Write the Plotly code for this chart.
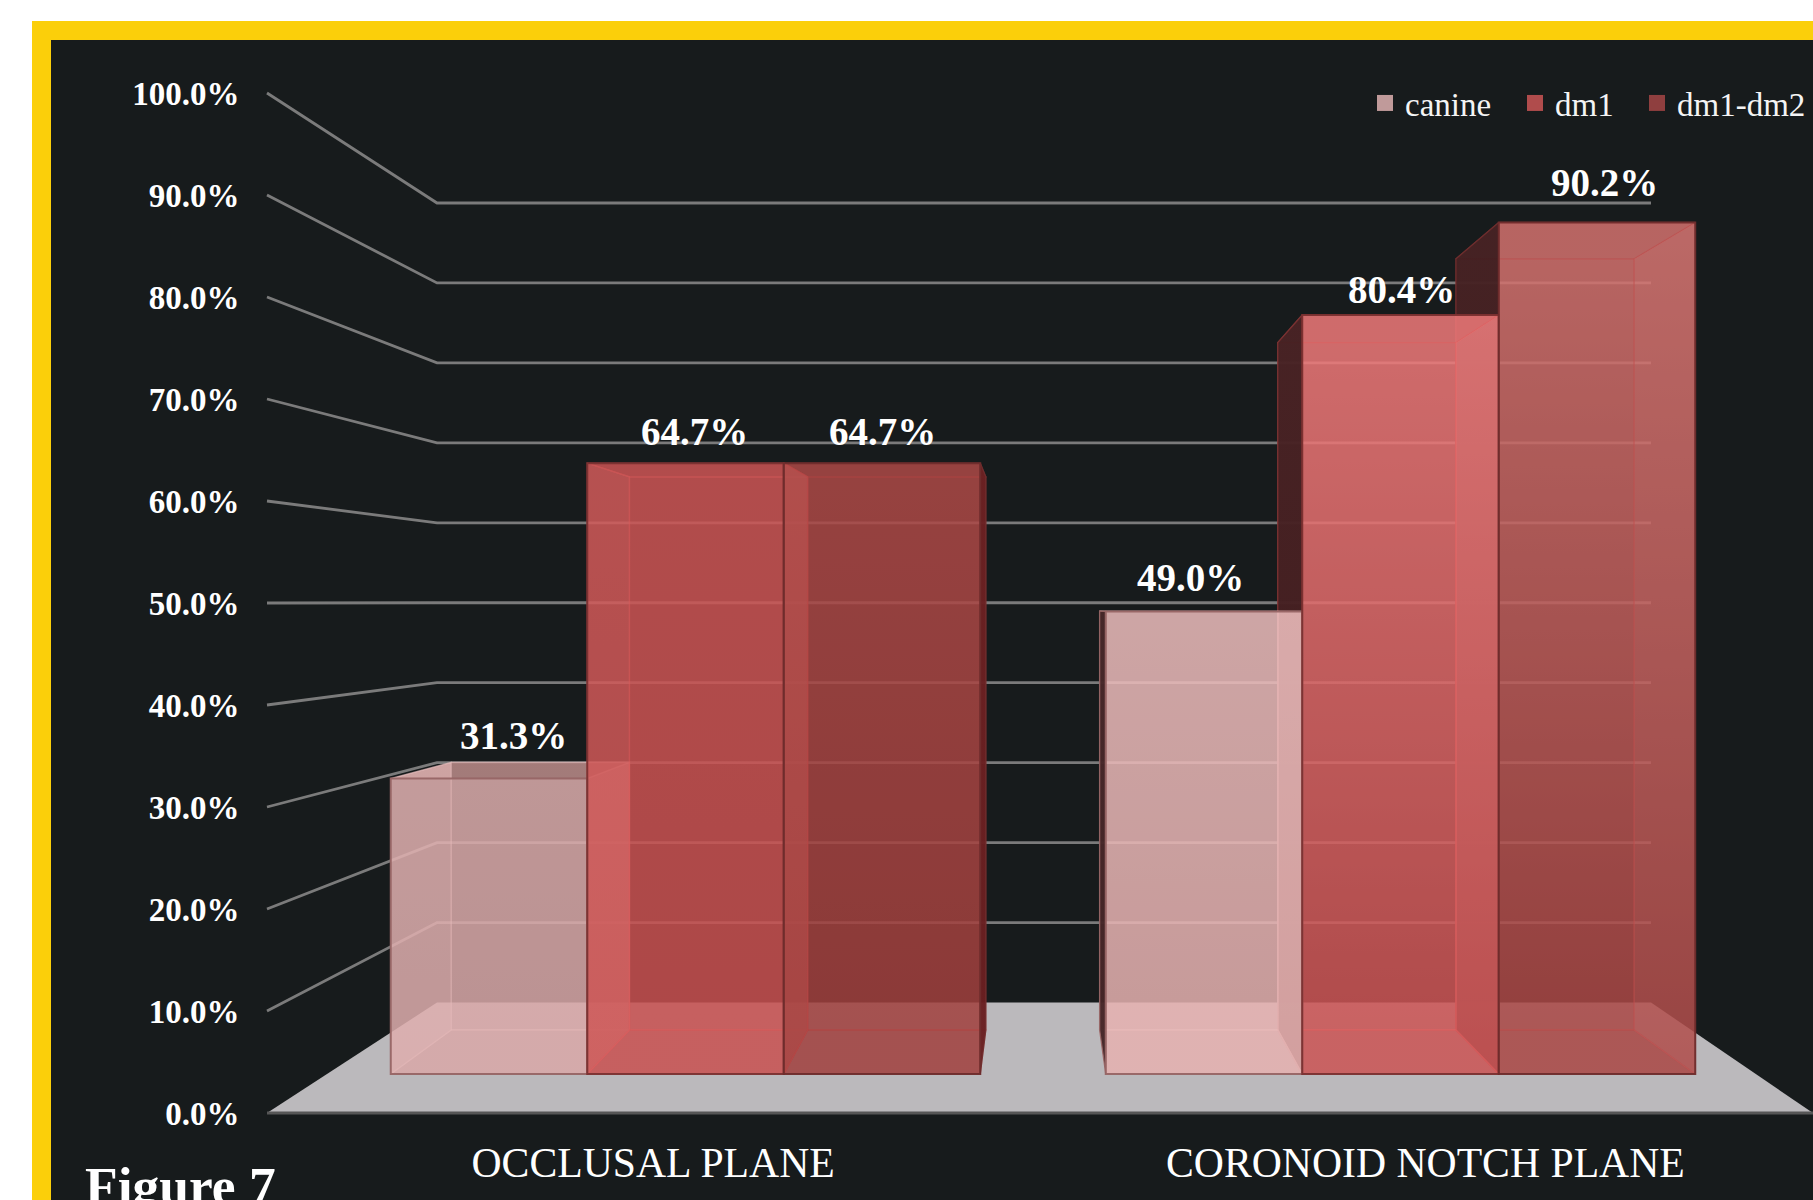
import plotly.graph_objects as go

# ---------- data ----------
CATEGORIES = ["OCCLUSAL PLANE", "CORONOID NOTCH PLANE"]
SERIES = ["canine", "dm1", "dm1-dm2"]
CANINE = [31.3, 49.0]
DM1 = [64.7, 80.4]
DM1_DM2 = [64.7, 90.2]
TICKS = [0, 10, 20, 30, 40, 50, 60, 70, 80, 90, 100]
TICK_LABELS = ["0.0%", "10.0%", "20.0%", "30.0%", "40.0%", "50.0%",
               "60.0%", "70.0%", "80.0%", "90.0%", "100.0%"]

# ---------- page geometry (px) ----------
W, H = 1813, 1200
FONT = "Liberation Serif"
BG = "#171b1c"

GROUP_CENTRES = [685.5, 1400.5]
BAR_W = 196.5
VP = 1040.0           # x that does not move with depth
SHRINK = 0.0932       # x shrink front -> back of bar
FRONT_BASE, FRONT_K = 1074.0, 9.44
BACK_BASE, BACK_K = 1030.0, 8.55
WALL_X0, WALL_X1, WALL_X2 = 267.0, 437.0, 1651.0
TICK_BASE, TICK_K = 1113.0, 10.2
GRID_BASE, GRID_K = 1002.5, 7.995


def tick_units(py):
    return (TICK_BASE - py) / TICK_K


def front_units(py):
    return (FRONT_BASE - py) / FRONT_K


def proj_x(fx, d):
    return VP + (fx - VP) * (1 - SHRINK * d)


def proj_y(v, d):
    base = FRONT_BASE + (BACK_BASE - FRONT_BASE) * d
    k = FRONT_K + (BACK_K - FRONT_K) * d
    return front_units(base - k * v)


def rgba(c, a):
    return f"rgba({c[0]},{c[1]},{c[2]},{a})"


# mean colour per [series][group]
FRONT_COL = [[(219, 171, 171), (234, 183, 183)],
             [(202, 83, 82), (222, 103, 103)],
             [(164, 67, 66), (191, 92, 89)]]
# gradient of the inner faces: (top, bottom)
FACE_COL = [[((222, 176, 175), (214, 166, 166)), ((240, 196, 195), (226, 172, 170))],
            [((208, 88, 87), (198, 78, 77)), ((255, 139, 139), (186, 67, 67))],
            [((180, 78, 76), (156, 60, 58)), ((231, 133, 129), (151, 51, 49))]]
EDGE_COL = [(236, 195, 195), (232, 96, 96), (196, 70, 70)]
OUT_COL = [(150, 100, 100), (122, 48, 48), (110, 44, 44)]
LEGEND_COL = ["#c09a9a", "#b04c4c", "#8f3f3f"]
LEGEND_X = [1365, 1515, 1637]
LEGEND_KEYS = ["legend", "legend2", "legend3"]
DARK = (54, 24, 26)
POLY_A, FRONT_A, EDGE_A = 0.75, 0.40, 0.42

LABEL_DX = [[24, 9, 0], [-14, 1, 7]]
LABEL_DY = [[43, 32, 32], [34, 26, 40]]

VALUES = [CANINE, DM1, DM1_DM2]
fig = go.Figure()

# ---------- floor and walls ----------
fig.add_trace(go.Scatter(
    x=[WALL_X0, WALL_X1, WALL_X2, W + 0, WALL_X0],
    y=[tick_units(TICK_BASE), tick_units(GRID_BASE), tick_units(GRID_BASE),
       tick_units(TICK_BASE), tick_units(TICK_BASE)],
    mode="lines", fill="toself", fillcolor="#bbb9bc", line=dict(width=0),
    showlegend=False, hoverinfo="skip", xaxis="x", yaxis="y"))
fig.add_trace(go.Scatter(
    x=[WALL_X0, W], y=[0, 0], mode="lines", line=dict(color="#565656", width=3),
    showlegend=False, hoverinfo="skip", xaxis="x", yaxis="y"))
for t in TICKS[1:]:
    back = tick_units(GRID_BASE - GRID_K * t)
    fig.add_trace(go.Scatter(
        x=[WALL_X0, WALL_X1, WALL_X2], y=[t, back, back], mode="lines",
        line=dict(color="#7b7b7b", width=2.8),
        showlegend=False, hoverinfo="skip", xaxis="x", yaxis="y"))


def add_face(pts, top, bottom, edge, alpha=POLY_A):
    xs = [p[0] for p in pts] + [pts[0][0]]
    ys = [p[1] for p in pts] + [pts[0][1]]
    fig.add_trace(go.Scatter(
        x=xs, y=ys, mode="lines", fill="toself",
        fillgradient=dict(type="vertical",
                          colorscale=[[0, rgba(bottom, alpha)], [1, rgba(top, alpha)]]),
        line=dict(color=edge, width=1.3),
        showlegend=False, hoverinfo="skip", xaxis="x2", yaxis="y2"))


# ---------- depth faces ----------
for g, centre in enumerate(GROUP_CENTRES):
    order = [0, 1, 2] if g == 0 else [2, 1, 0]
    for s in order:
        v = VALUES[s][g]
        fx0 = centre + (s - 1.5) * BAR_W
        fx1 = fx0 + BAR_W
        bx0, bx1 = proj_x(fx0, 1), proj_x(fx1, 1)
        top, bot = FACE_COL[s][g]
        edge = rgba(EDGE_COL[s], EDGE_A)
        lift = lambda c: tuple(min(255, x + 10) for x in c)
        # back
        add_face([(bx0, proj_y(0, 1)), (bx1, proj_y(0, 1)),
                  (bx1, proj_y(v, 1)), (bx0, proj_y(v, 1))], top, bot, edge)
        # floor of the box
        add_face([(fx0, 0), (fx1, 0), (bx1, proj_y(0, 1)), (bx0, proj_y(0, 1))],
                 bot, bot, edge)
        # lid of the box
        lid_top = (160, 118, 116) if v < 45 else top
        add_face([(fx0, v), (fx1, v), (bx1, proj_y(v, 1)), (bx0, proj_y(v, 1))],
                 lid_top, lid_top, edge)
        # left side
        left_dark = g == 1
        add_face([(fx0, 0), (bx0, proj_y(0, 1)), (bx0, proj_y(v, 1)), (fx0, v)],
                 DARK if left_dark else lift(top), DARK if left_dark else lift(bot),
                 rgba(OUT_COL[s], 0.9) if left_dark else edge, 0.88 if left_dark else POLY_A)
        # right side
        right_dark = g == 0 and s == 2
        right_hidden = g == 0 and s < 2
        add_face([(fx1, 0), (bx1, proj_y(0, 1)), (bx1, proj_y(v, 1)), (fx1, v)],
                 (100, 28, 30) if right_dark else lift(top),
                 (100, 28, 30) if right_dark else lift(bot),
                 rgba(OUT_COL[s], 0.9) if right_dark else edge,
                 0.88 if right_dark else (0.25 if right_hidden else POLY_A))

# ---------- front faces: real grouped bars on a value axis ----------
for s, name in enumerate(SERIES):
    fig.add_trace(go.Bar(
        name=name, x=CATEGORIES, y=VALUES[s], showlegend=False, legendgroup=name,
        marker=dict(color=[rgba(FRONT_COL[s][g], FRONT_A) for g in range(2)],
                    line=dict(color=rgba(OUT_COL[s], 0.95), width=2)),
        hovertemplate="%{x}<br>" + name + ": %{y:.1f}%<extra></extra>",
        xaxis="x3", yaxis="y3"))
    # legend key: the opaque look of the bar
    fig.add_trace(go.Scatter(
        name=name, x=[None], y=[None], mode="markers", legendgroup=name,
        legend=LEGEND_KEYS[s],
        marker=dict(symbol="square", size=16, color=LEGEND_COL[s]),
        xaxis="x3", yaxis="y3"))

# ---------- labels ----------
annotations = []
for g, centre in enumerate(GROUP_CENTRES):
    for s in range(3):
        v = VALUES[s][g]
        annotations.append(dict(
            xref="x", yref="y3", x=centre + (s - 1) * BAR_W + LABEL_DX[g][s], y=v,
            text=f"<b>{v:.1f}%</b>", showarrow=False, yanchor="middle", xanchor="center",
            yshift=LABEL_DY[g][s],
            font=dict(family=FONT, size=39, color="white")))
annotations.append(dict(
    xref="paper", yref="paper", x=83 / W, y=1 - 1154 / H, xanchor="left", yanchor="top",
    text="<b>Figure 7</b>", showarrow=False,
    font=dict(family=FONT, size=53.5, color="white")))

# ---------- layout ----------
x3_unit = GROUP_CENTRES[1] - GROUP_CENTRES[0]
cat_ticks = [proj_x(c, -0.86) - 4 for c in GROUP_CENTRES]


def legend_box(i):
    return dict(xanchor="left", yanchor="middle", x=LEGEND_X[i] / W, y=1 - 103 / H,
                bgcolor="rgba(0,0,0,0)",
                font=dict(family=FONT, size=33, color="#f4f4f4"),
                itemclick=False, itemdoubleclick=False)


fig.update_layout(
    width=W, height=H, autosize=False,
    margin=dict(l=0, r=0, t=0, b=0, pad=0),
    paper_bgcolor="white", plot_bgcolor="rgba(0,0,0,0)",
    barmode="group", bargap=1 - 3 * BAR_W / x3_unit, bargroupgap=0,
    font=dict(family=FONT, color="white"),
    showlegend=True,
    legend=legend_box(0), legend2=legend_box(1), legend3=legend_box(2),
    annotations=annotations,
    shapes=[
        dict(type="rect", xref="paper", yref="paper", x0=32 / W, x1=1, y0=0, y1=1 - 21 / H,
             fillcolor="#fbcf0a", line=dict(width=0), layer="below"),
        dict(type="rect", xref="paper", yref="paper", x0=51 / W, x1=1, y0=0, y1=1 - 40 / H,
             fillcolor=BG, line=dict(width=0), layer="below"),
    ],
    xaxis=dict(range=[0, W], domain=[0, 1], anchor="free", position=(H - 1134) / H,
               tickmode="array", tickvals=cat_ticks, ticktext=CATEGORIES, ticks="",
               tickfont=dict(family=FONT, size=41.7, color="white"),
               showgrid=False, zeroline=False, showline=False, tickangle=0, automargin=False),
    yaxis=dict(range=[tick_units(H), tick_units(0)], domain=[0, 1], anchor="free",
               position=239.5 / W, tickmode="array", tickvals=TICKS, ticktext=TICK_LABELS, ticks="",
               tickfont=dict(family=FONT, size=33, color="white", weight="bold"),
               showgrid=False, zeroline=False, showline=False, automargin=False),
    xaxis2=dict(range=[0, W], domain=[0, 1], overlaying="x", anchor="y2", visible=False),
    yaxis2=dict(range=[front_units(H), front_units(0)], domain=[0, 1], overlaying="y",
                anchor="x2", visible=False),
    xaxis3=dict(type="category", categoryorder="array", categoryarray=CATEGORIES,
                range=[-GROUP_CENTRES[0] / x3_unit, (W - GROUP_CENTRES[0]) / x3_unit],
                domain=[0, 1], overlaying="x", anchor="y3", visible=False),
    yaxis3=dict(range=[front_units(H), front_units(0)], domain=[0, 1], overlaying="y",
                anchor="x3", visible=False),
)

fig.write_html("out.html", post_script="document.body.style.margin='0';",
               config={"displayModeBar": False})
